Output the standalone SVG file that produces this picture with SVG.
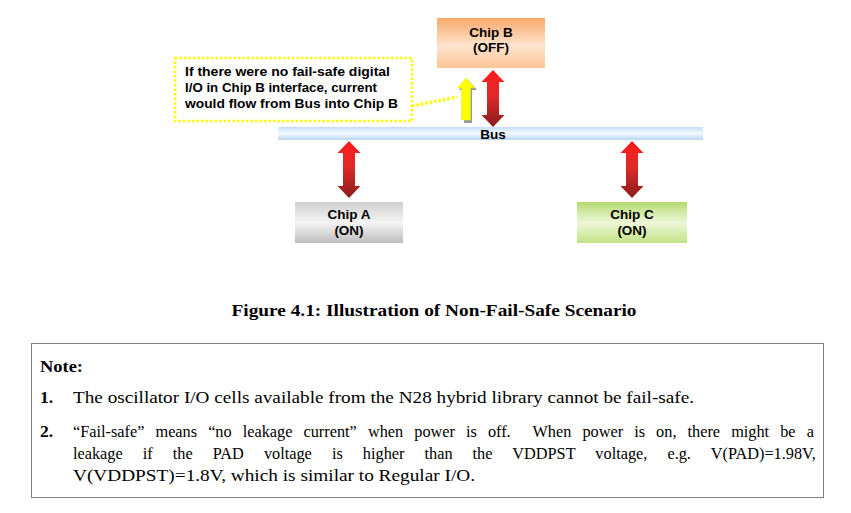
<svg xmlns="http://www.w3.org/2000/svg" xmlns:xlink="http://www.w3.org/1999/xlink" width="851" height="513" viewBox="0 0 851 513">
<defs>
<linearGradient id="gB" x1="0" y1="0" x2="0" y2="1"><stop offset="0" stop-color="#f9a86a"/><stop offset="0.55" stop-color="#fde3cd"/><stop offset="1" stop-color="#fbc597"/></linearGradient>
<linearGradient id="gA" x1="0" y1="0" x2="0" y2="1"><stop offset="0" stop-color="#cfcfcf"/><stop offset="0.5" stop-color="#f4f4f4"/><stop offset="1" stop-color="#bdbdbd"/></linearGradient>
<linearGradient id="gC" x1="0" y1="0" x2="0" y2="1"><stop offset="0" stop-color="#b4da6e"/><stop offset="0.5" stop-color="#eef7d9"/><stop offset="1" stop-color="#c2e286"/></linearGradient>
<linearGradient id="gBus" x1="0" y1="0" x2="0" y2="1"><stop offset="0" stop-color="#c4dff7"/><stop offset="0.5" stop-color="#f4f9ff"/><stop offset="1" stop-color="#b7d6f3"/></linearGradient>
<linearGradient id="gR" x1="0" y1="0" x2="0" y2="1"><stop offset="0" stop-color="#ff1a1a"/><stop offset="0.45" stop-color="#e02a2a"/><stop offset="1" stop-color="#8a1c1c"/></linearGradient>
<path id="dbl" d="M0,0 L11.5,12 L6,12 L6,45 L11.5,45 L0,57 L-11.5,45 L-6,45 L-6,12 L-11.5,12 Z" fill="url(#gR)"/>
</defs>
<style>
.lbl{font-family:"Liberation Sans",Arial,sans-serif;font-weight:bold;font-size:13.5px;fill:#000;text-anchor:middle}
.call{font-family:"Liberation Sans",Arial,sans-serif;font-weight:bold;font-size:13.5px;fill:#000}
.tm{font-family:"Liberation Serif","Times New Roman",serif;font-size:16.3px;fill:#000}
.tb{font-family:"Liberation Serif","Times New Roman",serif;font-size:17.5px;font-weight:bold;fill:#000}
</style>
<rect width="851" height="513" fill="#fff"/>
<g id="bus">
<rect x="278" y="127" width="425" height="13" fill="url(#gBus)"/>
<text class="lbl" x="493" y="138.5">Bus</text>
</g>
<g id="chipB">
<rect x="437" y="18" width="108" height="50" fill="url(#gB)"/>
<text class="lbl" x="491" y="37">Chip B</text>
<text class="lbl" x="491" y="52">(OFF)</text>
</g>
<g id="chipA">
<rect x="295" y="202" width="108" height="41" fill="url(#gA)"/>
<text class="lbl" x="349" y="219">Chip A</text>
<text class="lbl" x="349" y="235">(ON)</text>
</g>
<g id="chipC">
<rect x="577" y="202" width="110" height="41" fill="url(#gC)"/>
<text class="lbl" x="632" y="219">Chip C</text>
<text class="lbl" x="632" y="235">(ON)</text>
</g>
<g id="callout">
<rect x="175" y="58" width="237" height="63" fill="#fff" stroke="#ffff00" stroke-width="2.5" stroke-dasharray="2.5 2"/>
<text class="call" x="185" y="76" textLength="205" lengthAdjust="spacingAndGlyphs">If there were no fail-safe digital</text>
<text class="call" x="185" y="92" textLength="192" lengthAdjust="spacingAndGlyphs">I/O in Chip B interface, current</text>
<text class="call" x="185" y="108" textLength="213" lengthAdjust="spacingAndGlyphs">would flow from Bus into Chip B</text>
</g>
<g id="connectors">
<path d="M412,106 L457,97" stroke="#ffff00" stroke-width="3.5" stroke-dasharray="2.5 2" fill="none"/>
<path d="M468,80 L477,90 L472,90 L472,123 L464,123 L464,90 L459,90 Z" fill="#999"/>
<path d="M466,78 L474.5,88 L470.5,88 L470.5,120 L461.5,120 L461.5,88 L457.5,88 Z" fill="#ffff00" stroke="#e6e600" stroke-width="0.5"/>
<use xlink:href="#dbl" x="493" y="70"/>
<use xlink:href="#dbl" x="349" y="141"/>
<use xlink:href="#dbl" x="632" y="141"/>
</g>
<text class="tb" x="434" y="316" text-anchor="middle" textLength="405" lengthAdjust="spacingAndGlyphs" style="font-size:16.5px">Figure 4.1: Illustration of Non-Fail-Safe Scenario</text>
<g id="note">
<rect x="31.5" y="343.5" width="792" height="154" fill="#fff" stroke="#808080" stroke-width="1"/>
<text class="tb" x="40" y="372" textLength="43" lengthAdjust="spacingAndGlyphs">Note:</text>
<text class="tb" x="40" y="403">1.</text>
<text class="tm" x="73" y="403" textLength="621" lengthAdjust="spacingAndGlyphs">The oscillator I/O cells available from the N28 hybrid library cannot be fail-safe.</text>
<text class="tb" x="40" y="437">2.</text>
<text class="tm" x="73" y="437" style="word-spacing:7.0px">“Fail-safe” means “no leakage current” when power is off. <tspan dx="11">When power is on, there might be a</tspan></text>
<text class="tm" x="73" y="459" style="word-spacing:16px">leakage if the PAD voltage is higher than the VDDPST voltage, e.g. V(PAD)=1.98V,</text>
<text class="tm" x="73" y="481" textLength="402" lengthAdjust="spacingAndGlyphs">V(VDDPST)=1.8V, which is similar to Regular I/O.</text>
</g>
</svg>
